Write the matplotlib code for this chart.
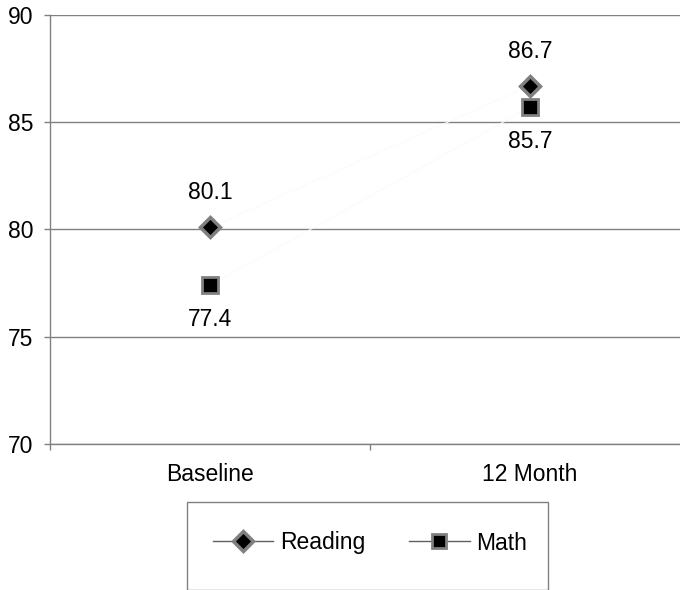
import matplotlib
matplotlib.use("Agg")
import matplotlib.pyplot as plt
from matplotlib.lines import Line2D
from matplotlib.patches import Rectangle

plt.rcParams['font.family'] = ['Liberation Sans', 'DejaVu Sans']

categories = ["Baseline", "12 Month"]
reading = [80.1, 86.7]
math_scores = [77.4, 85.7]
y_ticks = [70, 75, 80, 85, 90]

W, H = 680, 590
FS = 16.5
fig = plt.figure(figsize=(W / 100, H / 100), dpi=100)
ax = fig.add_axes([50 / W, 1 - 444 / H, 640 / W, 429 / H])

grid_c = "#808080"
x = list(range(len(categories)))

# faint connecting lines with marker styles
ax.plot(x, reading, color="#fbfbfb", lw=0.8, marker="D", markersize=10,
        markerfacecolor="black", markeredgecolor=grid_c, markeredgewidth=2.5,
        zorder=3, clip_on=False)
ax.plot(x, math_scores, color="#fbfbfb", lw=0.8, marker="s", markersize=11,
        markerfacecolor="black", markeredgecolor=grid_c, markeredgewidth=2,
        zorder=3, clip_on=False)

for xi, v in zip(x, reading):
    ax.annotate(f"{v:.1f}", (xi, v), xytext=(0, 25), textcoords="offset points",
                ha="center", va="center", fontsize=FS)
for xi, v in zip(x, math_scores):
    ax.annotate(f"{v:.1f}", (xi, v), xytext=(0, -25), textcoords="offset points",
                ha="center", va="center", fontsize=FS)

ax.set_ylim(70, 90)
ax.set_xlim(-0.5, 1.5)
ax.set_yticks(y_ticks)
ax.set_yticklabels([str(t) for t in y_ticks], fontsize=FS)
ax.set_xticks(x)
ax.set_xticklabels(categories, fontsize=FS)
ax.set_xticks([-0.5, 0.5, 1.5], minor=True)

ax.yaxis.grid(True, color=grid_c, lw=1)
ax.set_axisbelow(True)
for s in ["top", "right"]:
    ax.spines[s].set_visible(False)
for s in ["left", "bottom"]:
    ax.spines[s].set_color(grid_c)
    ax.spines[s].set_linewidth(1)

ax.tick_params(axis="y", length=4, width=1, color=grid_c, pad=8)
ax.tick_params(axis="x", which="major", length=0, pad=14)
ax.tick_params(axis="x", which="minor", length=4, width=1, color=grid_c)

# legend frame (open at the bottom edge of the figure)
fig.patches.append(Rectangle((187 / W, 0), (548 - 187) / W, 1 - 502 / H,
                             transform=fig.transFigure, fill=False,
                             edgecolor=grid_c, lw=1))

handles = [
    Line2D([], [], color="#606060", lw=1, marker="D", markersize=10,
           markerfacecolor="black", markeredgecolor=grid_c, markeredgewidth=2.5),
    Line2D([], [], color="#606060", lw=1, marker="s", markersize=10,
           markerfacecolor="black", markeredgecolor=grid_c, markeredgewidth=2),
]
fig.legend(handles, ["Reading", "Math"], loc="center",
           bbox_to_anchor=(370 / W, 1 - 543 / H), ncol=2, frameon=False,
           fontsize=FS, handlelength=2.65, handletextpad=0.3, columnspacing=1.9)

fig.savefig("out.png", dpi=100)
